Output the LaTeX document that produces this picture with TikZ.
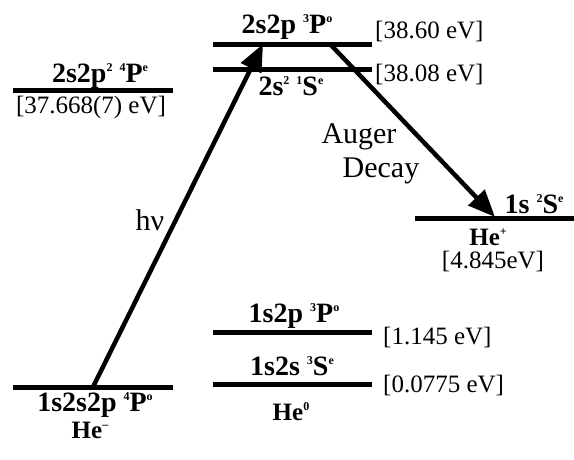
\documentclass[tikz,border=0pt]{standalone}
\usepackage{fontspec}
\setmainfont{Liberation Serif}
\usetikzlibrary{arrows.meta}
\newcommand{\spx}[1]{\raisebox{0.8ex}{\fontsize{12}{12}\selectfont #1}}

\begin{document}
\begin{tikzpicture}[x=1pt, y=-1pt,
    every node/.style={font=\fontsize{25}{28}\selectfont, inner sep=1pt},
    level/.style={line width=5pt},
    lab/.style={font=\fontsize{28}{30}\selectfont\bfseries},
    ion/.style={font=\fontsize{25}{28}\selectfont\bfseries},
    big/.style={font=\fontsize{30}{32}\selectfont},
    trans/.style={line width=4.5pt, -{Triangle[length=27pt, width=22pt]}}]
  \useasboundingbox (0,0) rectangle (574,459);
  % energy levels
  \draw[level] (13,90) -- (173,90);
  \draw[level] (213,44) -- (372,44);
  \draw[level] (213,69) -- (372,69);
  \draw[level] (415,218) -- (574,218);
  \draw[level] (213,332) -- (372,332);
  \draw[level] (213,384) -- (372,384);
  \draw[level] (13,387) -- (173,387);
  % level labels
  \node[lab, anchor=base] (qP) at (100,82) {2s2p\spx{2} \spx{4}P\spx{e}};
  \node[anchor=base] (qPe) at (91,113) {[37.668(7) eV]};
  \node[lab, anchor=base] (tP) at (287,33) {2s2p \spx{3}P\spx{o}};
  \node[anchor=base west] (tPe) at (374,38) {[38.60 eV]};
  \node[lab, anchor=base] (sS) at (291,95) {2s\spx{2} \spx{1}S\spx{e}};
  \node[anchor=base west] (sSe) at (374,81) {[38.08 eV]};
  \node[lab, anchor=base] (dS) at (534,213) {1s \spx{2}S\spx{e}};
  \node[ion, anchor=base] (hep) at (488,245) {He\spx{+}};
  \node[anchor=base] (hepe) at (493,268) {[4.845eV]};
  \node[lab, anchor=base] (oP) at (294,322) {1s2p \spx{3}P\spx{o}};
  \node[anchor=base west] (oPe) at (382,344) {[1.145 eV]};
  \node[lab, anchor=base] (oS) at (292,375) {1s2s \spx{3}S\spx{e}};
  \node[anchor=base west] (oSe) at (382,392) {[0.0775 eV]};
  \node[ion, anchor=base] (he0) at (291,420) {He\spx{0}};
  \node[lab, anchor=base] (nP) at (95,411) {1s2s2p \spx{4}P\spx{o}};
  \node[ion, anchor=base] (hem) at (90,438) {He\spx{--}};
  % transitions
  \coordinate (hmS) at (93,387);
  \coordinate (tPa) at (263,44);
  \coordinate (tPb) at (330,44);
  \coordinate (dSa) at (495,217);
  \draw[trans] (hmS) -- (tPa);
  \draw[trans] (tPb) -- (dSa);
  \node[big, anchor=base] (hnu) at (150,230) {hν};
  \node[big, anchor=base] (aug) at (359,143) {Auger};
  \node[big, anchor=base] (dec) at (381,177) {Decay};
\end{tikzpicture}
\end{document}
